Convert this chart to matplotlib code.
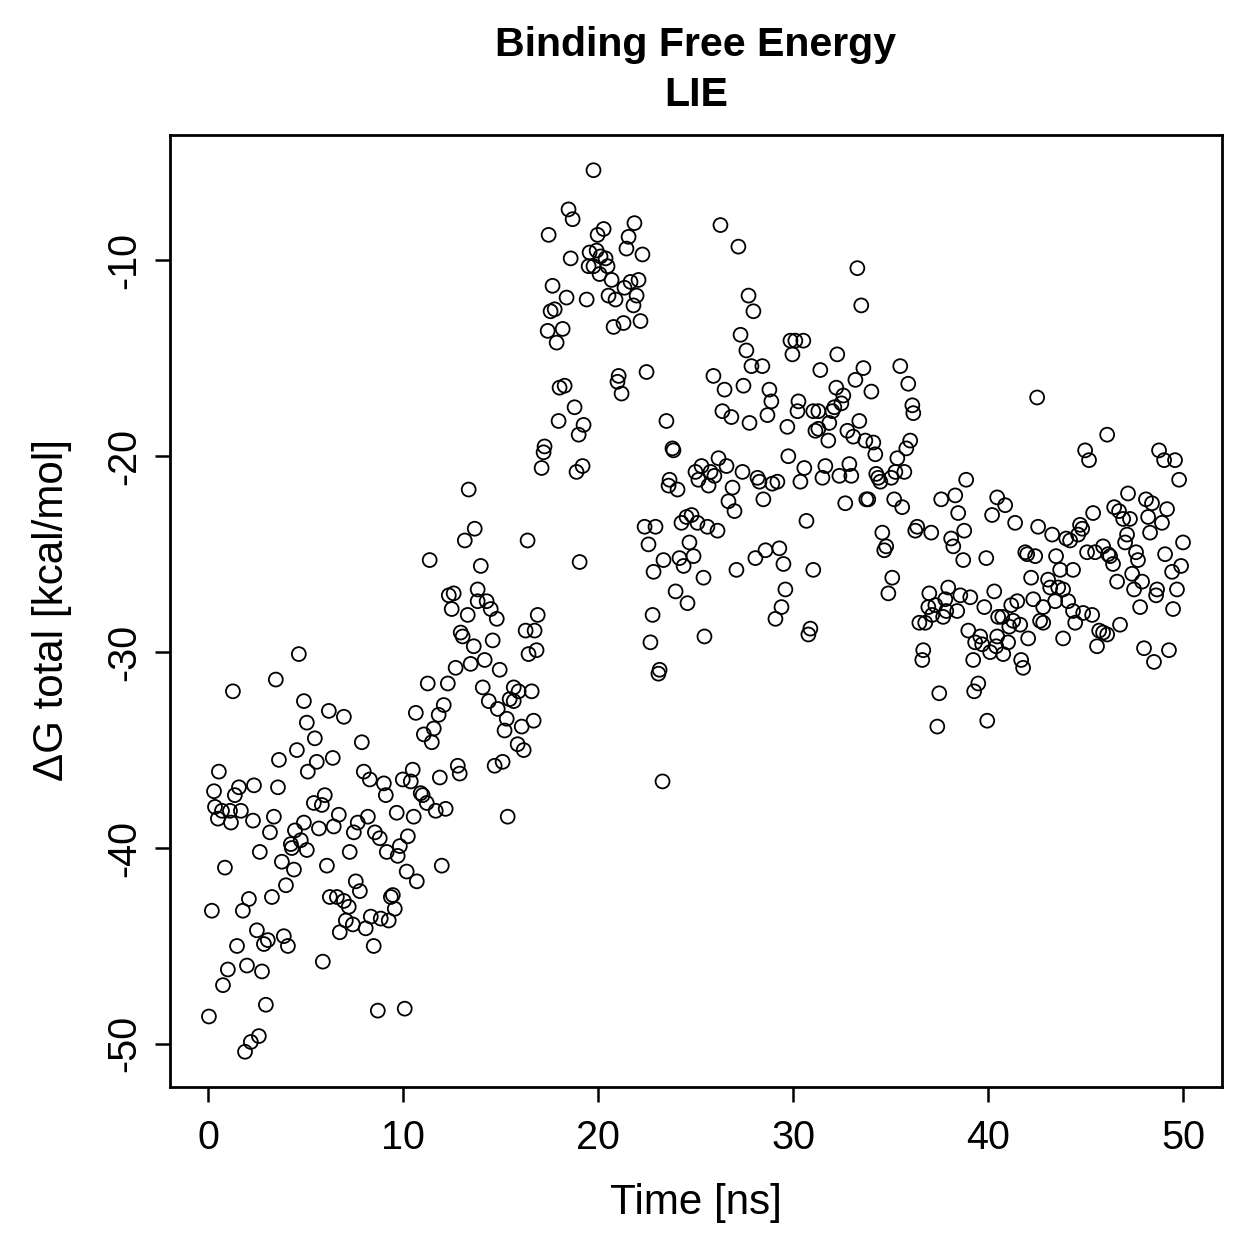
import matplotlib
matplotlib.use('Agg')
import matplotlib.pyplot as plt
import numpy as np

plt.rcParams['font.family'] = ['Liberation Sans', 'DejaVu Sans']
plt.rcParams['axes.unicode_minus'] = False

# Tempo [ns] e energia livre de ligacao [kcal/mol]
tempo = [
    3.48, 1.28, 4.92, 5.07, 4.56, 3.64, 0.56, 5.12, 0.31, 1.59, 1.38, 2.36, 3.59, 0.36, 0.72, 0.51,
    1.13, 1.69, 1.18, 2.31, 3.38, 3.18, 4.92, 4.46, 4.76, 4.25, 4.30, 5.07, 2.66, 3.79, 4.41, 0.87,
    4.00, 3.28, 2.10, 1.79, 0.20, 2.51, 3.07, 2.87, 3.89, 4.10, 1.49, 1.02, 2.00, 2.77, 0.77, 2.97,
    0.05, 2.61, 2.20, 1.90, 4.66,
    6.20, 6.97, 5.48, 7.89, 10.66, 6.40, 5.58, 7.99, 8.30, 9.02, 9.12, 9.99, 10.50, 10.40, 5.99, 5.43,
    5.84, 6.71, 6.45, 8.20, 7.68, 7.48, 9.68, 10.55, 5.69, 8.56, 8.81, 10.25, 9.84, 9.73, 9.17, 7.27,
    6.10, 10.19, 10.71, 7.58, 7.79, 6.25, 6.61, 6.97, 7.22, 9.48, 9.38, 9.58, 8.35, 8.86, 9.27, 7.07,
    7.43, 8.09, 6.76, 8.50, 5.89, 8.71, 10.09,
    13.37, 13.68, 13.17, 16.39, 11.37, 13.99, 12.35, 12.60, 13.83, 13.83, 14.29, 14.50, 14.81, 12.50,
    13.32, 16.91, 12.96, 13.06, 16.29, 16.75, 13.63, 14.60, 16.44, 16.85, 12.70, 13.47, 14.19, 14.96,
    11.27, 12.30, 14.09, 15.68, 15.93, 16.60, 14.40, 15.47, 15.68, 14.86, 12.09, 11.83, 15.32, 15.21,
    16.09, 16.70, 11.58, 11.07, 11.48, 15.88, 16.19, 12.81, 12.91, 14.70, 15.11, 11.89, 10.91, 11.01,
    11.22, 11.68, 12.19, 15.37, 11.99,
    19.77, 18.49, 18.70, 17.47, 20.29, 19.98, 21.87, 21.57, 21.46, 22.28, 18.60, 19.57, 19.93, 20.13,
    20.39, 20.49, 19.52, 19.77, 20.08, 20.70, 21.67, 22.08, 21.36, 17.67, 18.39, 19.42, 20.54, 20.90,
    21.98, 21.82, 17.57, 17.78, 18.19, 17.42, 17.88, 20.80, 21.31, 22.18, 21.06, 21.00, 21.21, 22.49,
    18.03, 18.29, 18.80, 17.98, 19.26, 19.01, 17.26, 17.21, 17.11, 19.21, 18.90, 19.06, 22.39, 22.95,
    22.59, 22.85,
    25.92, 26.49, 26.38, 26.84, 23.51, 23.82, 23.87, 26.18, 26.59, 25.00, 25.31, 25.15, 25.77, 25.97,
    25.67, 23.67, 23.62, 24.08, 26.90, 26.69, 27.00, 24.28, 24.54, 24.80, 25.10, 25.61, 26.13, 24.69,
    23.36, 24.18, 24.39, 24.90, 25.41, 23.98, 24.59, 22.80, 25.46, 22.69, 23.16, 23.10, 23.31,
    26.28, 27.20, 27.72, 27.97, 27.31, 27.61, 27.87, 28.43, 27.46, 28.79, 28.89, 28.69, 27.77, 29.71,
    29.87, 30.12, 30.53, 29.97, 30.28, 30.23, 31.04, 31.30, 31.15, 31.30, 31.40, 27.41, 28.18, 28.28,
    28.94, 29.20, 29.76, 30.58, 30.38, 31.51, 28.48, 30.69, 28.07, 28.59, 29.30, 29.51, 27.10, 31.04,
    29.61, 29.41, 29.10, 30.89, 30.79,
    33.30, 33.50, 32.27, 33.61, 35.50, 33.20, 35.91, 32.22, 34.02, 32.58, 32.48, 32.02, 32.12, 36.12,
    36.17, 31.86, 33.40, 32.79, 33.09, 33.71, 34.12, 34.22, 31.81, 36.01, 35.81, 35.35, 31.66, 32.38,
    32.89, 32.99, 34.27, 34.37, 34.48, 35.04, 35.25, 35.71, 32.68, 33.76, 33.86, 35.19, 35.60, 34.58,
    34.78, 34.68, 35.09, 34.89,
    36.37, 36.27, 38.88, 37.60, 38.32, 38.47, 40.47, 40.21, 37.09, 38.11, 38.22, 38.78, 38.73, 39.91,
    36.99, 37.96, 37.81, 38.58, 39.09, 40.32, 39.81, 36.94, 37.30, 37.14, 37.70, 38.42, 37.86, 36.48,
    36.78, 40.52, 38.99, 39.60, 39.34, 39.70, 40.11, 36.68, 36.63, 39.24, 39.50, 39.29, 37.50, 37.40,
    39.96,
    42.52, 40.88, 41.39, 42.57, 43.29, 44.01, 44.21, 41.91, 42.01, 42.42, 43.49, 43.70, 44.36, 42.21,
    43.08, 43.19, 43.60, 43.85, 42.32, 42.83, 43.44, 44.11, 44.36, 41.19, 41.50, 40.73, 41.29, 41.65,
    41.09, 42.67, 42.83, 44.47, 40.47, 40.42, 41.03, 40.78, 42.06, 43.85, 41.70, 41.80,
    46.11, 44.98, 45.18, 48.77, 49.03, 49.59, 49.80, 47.18, 48.10, 48.41, 49.18, 48.21, 48.92, 48.31,
    45.39, 46.47, 46.72, 46.93, 47.28, 44.72, 44.83, 44.62, 47.13, 47.03, 50.00, 45.08, 45.49, 45.90,
    46.16, 46.26, 46.41, 47.59, 47.69, 49.08, 49.44, 49.90, 47.39, 47.90, 46.62, 47.49, 48.67, 48.62,
    49.69, 49.49, 47.80, 44.88, 45.34, 46.77, 45.70, 45.90, 46.11, 45.59, 48.00, 48.51, 49.28,
]
dG_total = [
    -31.4, -32.0, -32.5, -33.6, -35.0, -35.5, -36.1, -36.1, -37.1, -36.9, -37.3, -36.8, -36.9, -37.9, -38.1, -38.5,
    -38.1, -38.1, -38.7, -38.6, -38.4, -39.2, -38.7, -39.1, -39.6, -39.8, -40.0, -40.1, -40.2, -40.7, -41.1, -41.0,
    -41.9, -42.5, -42.6, -43.2, -43.2, -44.2, -44.7, -44.9, -44.5, -45.0, -45.0, -46.2, -46.0, -46.3, -47.0, -48.0,
    -48.6, -49.6, -49.9, -50.4, -30.1,
    -33.0, -33.3, -34.4, -34.6, -33.1, -35.4, -35.6, -36.1, -36.5, -36.7, -37.3, -36.5, -36.0, -36.6, -37.3, -37.7,
    -37.8, -38.3, -38.9, -38.4, -38.7, -39.2, -38.2, -38.4, -39.0, -39.2, -39.5, -39.4, -39.9, -40.4, -40.2, -40.2,
    -40.9, -41.2, -41.7, -41.7, -42.2, -42.5, -42.5, -42.7, -43.0, -42.4, -42.5, -43.1, -43.5, -43.6, -43.7, -43.7,
    -43.9, -44.1, -44.3, -45.0, -45.8, -48.3, -48.2,
    -21.7, -23.7, -24.3, -24.3, -25.3, -25.6, -27.1, -27.0, -26.8, -27.4, -27.4, -27.8, -28.3, -27.8,
    -28.1, -28.1, -29.0, -29.2, -28.9, -28.9, -29.7, -29.4, -30.1, -29.9, -30.8, -30.6, -30.4, -30.9,
    -31.6, -31.6, -31.8, -31.8, -32.0, -32.0, -32.5, -32.4, -32.5, -32.9, -32.7, -33.2, -33.4, -34.0,
    -33.8, -33.5, -33.9, -34.2, -34.6, -34.7, -35.0, -35.8, -36.2, -35.8, -35.6, -36.4, -37.2, -37.3,
    -37.7, -38.1, -38.0, -38.4, -40.9,
    -5.4, -7.4, -7.9, -8.7, -8.4, -8.7, -8.1, -8.8, -9.4, -9.7, -9.9, -9.6, -9.5, -9.8,
    -9.9, -10.3, -10.3, -10.3, -10.7, -11.0, -11.1, -11.0, -11.4, -11.3, -11.9, -12.0, -11.8, -12.0,
    -11.8, -12.3, -12.6, -12.5, -13.5, -13.6, -14.2, -13.4, -13.2, -13.1, -15.9, -16.2, -16.8, -15.7,
    -16.5, -16.4, -17.5, -18.2, -18.4, -18.9, -19.5, -19.8, -20.6, -20.5, -20.8, -25.4, -23.6, -23.6,
    -24.5, -25.9,
    -15.9, -16.6, -17.7, -18.0, -18.2, -19.6, -19.7, -20.1, -20.5, -20.8, -20.5, -21.2, -20.8, -21.0,
    -21.5, -21.2, -21.5, -21.7, -21.6, -22.3, -22.8, -23.4, -23.1, -23.0, -23.4, -23.6, -23.8, -24.4,
    -25.3, -25.2, -25.6, -25.1, -26.2, -26.9, -27.5, -28.1, -29.2, -29.5, -30.9, -31.1, -36.6,
    -8.2, -9.3, -11.8, -12.6, -13.8, -14.6, -15.4, -15.4, -16.4, -16.6, -17.2, -17.9, -18.3, -18.5,
    -14.1, -14.1, -14.1, -14.8, -17.2, -17.7, -17.7, -17.7, -18.7, -18.6, -15.6, -20.8, -21.1, -21.3,
    -21.4, -21.3, -20.0, -20.6, -21.3, -21.1, -22.2, -23.3, -25.2, -24.8, -24.7, -25.5, -25.8, -25.8,
    -26.8, -27.7, -28.3, -28.8, -29.1,
    -10.4, -12.3, -14.8, -15.5, -15.4, -16.1, -16.3, -16.5, -16.7, -16.9, -17.3, -17.7, -17.5, -17.4,
    -17.8, -18.3, -18.2, -18.7, -19.0, -19.2, -19.3, -19.9, -19.2, -19.2, -19.6, -20.1, -20.5, -21.0,
    -20.4, -21.0, -20.9, -21.1, -21.3, -21.1, -20.8, -20.8, -22.4, -22.2, -22.2, -22.2, -22.6, -23.9,
    -24.6, -24.8, -26.2, -27.0,
    -23.6, -23.8, -21.2, -22.2, -22.0, -22.9, -22.1, -23.0, -23.9, -24.2, -24.6, -23.8, -25.3, -25.2,
    -27.0, -26.7, -27.3, -27.1, -27.2, -26.9, -27.7, -27.7, -27.6, -28.1, -28.2, -27.9, -27.9, -28.5,
    -28.5, -28.2, -28.9, -29.2, -29.5, -29.6, -30.0, -29.9, -30.4, -30.4, -31.6, -32.0, -32.1, -33.8,
    -33.5,
    -17.0, -22.5, -23.4, -23.6, -24.0, -24.2, -24.3, -24.9, -25.0, -25.1, -25.1, -25.8, -25.8, -26.2,
    -26.3, -26.7, -26.7, -26.8, -27.3, -27.7, -27.4, -27.4, -27.9, -27.6, -27.4, -28.2, -28.4, -28.6,
    -28.7, -28.4, -28.5, -28.5, -29.2, -29.7, -29.5, -30.1, -29.3, -29.3, -30.4, -30.8,
    -18.9, -19.7, -20.2, -19.7, -20.2, -20.2, -21.2, -21.9, -22.2, -22.4, -22.7, -23.1, -23.4, -23.9,
    -22.9, -22.6, -22.8, -23.2, -23.2, -23.5, -23.7, -24.0, -24.0, -24.4, -24.4, -24.9, -24.9, -24.6,
    -25.0, -25.1, -25.5, -24.9, -25.3, -25.0, -25.9, -25.6, -26.0, -26.4, -26.4, -26.8, -26.8, -27.1,
    -26.8, -27.8, -27.7, -28.0, -28.1, -28.6, -28.9, -29.0, -29.1, -29.7, -29.8, -30.5, -29.9,
]

fig = plt.figure(figsize=(12.59, 12.59), dpi=100)
ax = fig.add_axes([0.135, 0.1366, 0.8356, 0.7562])

ax.scatter(tempo, dG_total, s=100, facecolors='none', edgecolors='black', linewidths=1.3)

# limites no estilo do R (4% de folga)
t = np.array(tempo)
g = np.array(dG_total)
dx = (t.max() - t.min()) * 0.04
dy = (g.max() - g.min()) * 0.04
ax.set_xlim(t.min() - dx, t.max() + dx)
ax.set_ylim(g.min() - dy, g.max() + dy)

ax.set_xticks([0, 10, 20, 30, 40, 50])
ax.set_yticks([-50, -40, -30, -20, -10])
ax.tick_params(axis='both', direction='out', length=11, width=1.8, labelsize=28.5)
ax.tick_params(axis='x', pad=12)
ax.tick_params(axis='y', pad=8)
for lab in ax.get_yticklabels():
    lab.set_rotation(90)
    lab.set_va('center')
for sp in ax.spines.values():
    sp.set_linewidth(2.0)

fig.text(0.5527, 1 - 45 / 1259, 'Binding Free Energy', ha='center', va='center',
         fontsize=29.6, fontweight='bold')
fig.text(0.5527, 1 - 95 / 1259, 'LIE', ha='center', va='center',
         fontsize=29.6, fontweight='bold')
fig.text(0.5527, 1 - 1203 / 1259, 'Time [ns]', ha='center', va='center', fontsize=30.3)
fig.text(52 / 1259, 1 - 610 / 1259, 'ΔG total [kcal/mol]', ha='center', va='center',
         rotation=90, fontsize=30.3)

fig.savefig('out.png', dpi=100)
